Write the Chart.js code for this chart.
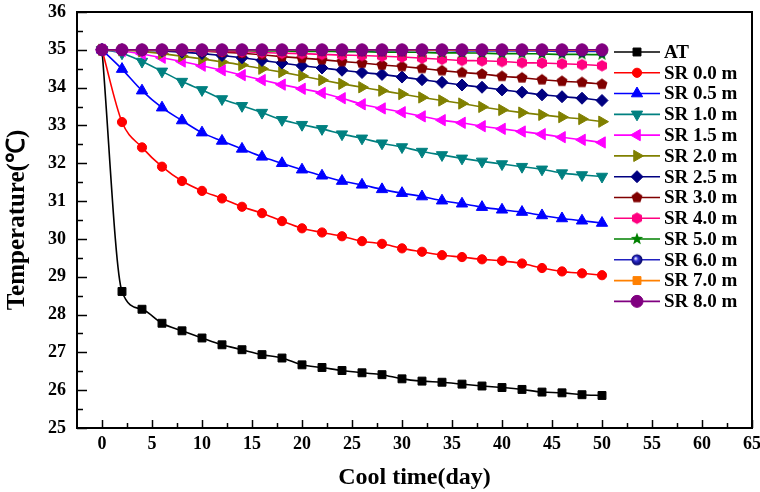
<!DOCTYPE html>
<html><head><meta charset="utf-8">
<script src="https://cdn.jsdelivr.net/npm/chart.js@4.4.1/dist/chart.umd.min.js"></script>
<style>html,body{margin:0;padding:0;background:#fff;}</style>
</head><body>
<canvas id="c" width="760" height="492"></canvas>
<script>
const DAYS = [0,2,4,6,8,10,12,14,16,18,20,22,24,26,28,30,32,34,36,38,40,42,44,46,48,50];
const AT   = [35,28.61,28.14,27.77,27.57,27.38,27.20,27.07,26.94,26.85,26.67,26.60,26.52,26.46,26.41,26.30,26.24,26.21,26.16,26.11,26.07,26.02,25.95,25.93,25.88,25.86];
const SR00 = [35,33.09,32.42,31.91,31.53,31.27,31.07,30.85,30.68,30.47,30.28,30.17,30.07,29.94,29.87,29.75,29.66,29.57,29.52,29.46,29.42,29.35,29.23,29.14,29.09,29.04];
const SR05 = [35,34.49,33.92,33.47,33.13,32.81,32.59,32.38,32.17,32.00,31.83,31.67,31.53,31.43,31.31,31.21,31.12,31.01,30.93,30.84,30.77,30.71,30.62,30.54,30.48,30.42];
const SR10 = [35,34.91,34.69,34.43,34.16,33.94,33.70,33.52,33.34,33.15,33.02,32.91,32.77,32.66,32.53,32.43,32.31,32.22,32.13,32.05,31.98,31.91,31.84,31.74,31.69,31.65];
const SR15 = [35,34.97,34.89,34.79,34.69,34.58,34.46,34.33,34.20,34.08,33.97,33.86,33.72,33.56,33.45,33.35,33.24,33.14,33.07,32.98,32.91,32.84,32.77,32.69,32.62,32.55];
const SR20 = [35,34.99,34.96,34.90,34.83,34.76,34.68,34.60,34.50,34.41,34.31,34.20,34.10,34.01,33.92,33.83,33.74,33.66,33.58,33.49,33.41,33.34,33.28,33.22,33.17,33.10];
const SR25 = [35,35,34.99,34.97,34.94,34.90,34.85,34.79,34.72,34.65,34.58,34.52,34.46,34.40,34.35,34.28,34.21,34.14,34.07,34.01,33.94,33.88,33.81,33.76,33.72,33.66];
const SR30 = [35,35,35,34.99,34.98,34.96,34.94,34.91,34.87,34.82,34.78,34.74,34.69,34.65,34.60,34.56,34.51,34.45,34.40,34.36,34.30,34.26,34.21,34.17,34.14,34.09];
const SR40 = [35,35,34.99,34.99,34.98,34.97,34.96,34.95,34.93,34.91,34.90,34.88,34.86,34.85,34.83,34.81,34.78,34.75,34.72,34.71,34.69,34.66,34.65,34.63,34.61,34.58];
const SR50 = [35,35,35,35,34.99,34.99,34.98,34.98,34.97,34.97,34.96,34.96,34.95,34.95,34.94,34.94,34.93,34.92,34.92,34.91,34.90,34.90,34.89,34.88,34.88,34.87];
const SR60 = [35,35,35,35,35,35,35,35,34.99,34.99,34.99,34.99,34.99,34.98,34.98,34.98,34.98,34.98,34.97,34.97,34.97,34.97,34.97,34.96,34.96,34.96];
const SR70 = [35,35,35,35,35,35,35,35,35,35,35,35,35,35,35,35,34.99,34.99,34.99,34.99,34.99,34.99,34.99,34.99,34.99,34.99];
const SR80 = [35,35,35,35,35,35,35,35,35,35,35,35,35,35,35,35,35,35,35,35,35,35,35,35,35,35];
const SERIES_LABELS = ['AT','SR 0.0 m','SR 0.5 m','SR 1.0 m','SR 1.5 m','SR 2.0 m','SR 2.5 m','SR 3.0 m','SR 4.0 m','SR 5.0 m','SR 6.0 m','SR 7.0 m','SR 8.0 m'];
const X_TICKS = [0,5,10,15,20,25,30,35,40,45,50,55,60,65];
const Y_TICKS = [25,26,27,28,29,30,31,32,33,34,35,36];
const X_TITLE = 'Cool time(day)';
const Y_TITLE = 'Temperature(\u2103)';

// marker glyphs
function polyMarker(n, r, fill, rotDeg, inner) {
  const s = 16, c = document.createElement('canvas'); c.width = s; c.height = s;
  const g = c.getContext('2d'); g.fillStyle = fill; g.beginPath();
  const pts = inner ? n * 2 : n;
  for (let i = 0; i < pts; i++) {
    const rr = inner ? (i % 2 ? inner : r) : r;
    const a = (rotDeg * Math.PI / 180) + i * 2 * Math.PI / pts - Math.PI / 2;
    const px = s / 2 + rr * Math.cos(a), py = s / 2 + rr * Math.sin(a);
    i ? g.lineTo(px, py) : g.moveTo(px, py);
  }
  g.closePath(); g.fill(); return c;
}
function ballMarker(r) {
  const s = 16, c = document.createElement('canvas'); c.width = s; c.height = s;
  const g = c.getContext('2d');
  const grd = g.createRadialGradient(s/2 - 1.5, s/2 - 1.5, 0.5, s/2, s/2, r);
  grd.addColorStop(0, '#e0e0ff'); grd.addColorStop(0.35, '#3030d0'); grd.addColorStop(1, '#000060');
  g.fillStyle = grd; g.beginPath(); g.arc(s/2, s/2, r, 0, Math.PI * 2); g.fill(); return c;
}
const PENTAGON = polyMarker(5, 5.8, '#800000', 0);
const HEXAGON = polyMarker(6, 5.8, '#ff0080', 0);
const STAR = polyMarker(5, 6.5, '#008000', 0, 2.7);
const BALL = ballMarker(5.5);

function mk(label, data, color, style, radius, rot, order) {
  return {
    label, data: DAYS.map((d, i) => ({x: d, y: data[i]})),
    borderColor: color, backgroundColor: color, pointBackgroundColor: color, pointBorderColor: color,
    pointStyle: style, pointRadius: radius, pointRotation: rot || 0, pointBorderWidth: 1,
    borderWidth: 1.6, tension: 0.4, cubicInterpolationMode: 'monotone', order
  };
}
const datasets = [
  mk(SERIES_LABELS[0], AT, '#000000', 'rect', 5.6, 0, 12),
  mk(SERIES_LABELS[1], SR00, '#ff0000', 'circle', 4.6, 0, 11),
  mk(SERIES_LABELS[2], SR05, '#0000ff', 'triangle', 6.5, 0, 10),
  mk(SERIES_LABELS[3], SR10, '#008080', 'triangle', 6.5, 180, 9),
  mk(SERIES_LABELS[4], SR15, '#ff00ff', 'triangle', 6.5, 270, 8),
  mk(SERIES_LABELS[5], SR20, '#808000', 'triangle', 6.5, 90, 7),
  mk(SERIES_LABELS[6], SR25, '#000080', 'rectRot', 6, 0, 6),
  mk(SERIES_LABELS[7], SR30, '#800000', PENTAGON, 5.5, 0, 5),
  mk(SERIES_LABELS[8], SR40, '#ff0080', HEXAGON, 5.5, 0, 4),
  mk(SERIES_LABELS[9], SR50, '#008000', STAR, 5.5, 0, 3),
  mk(SERIES_LABELS[10], SR60, '#2020c0', BALL, 5.5, 0, 2),
  mk(SERIES_LABELS[11], SR70, '#ff8000', 'rect', 5.6, 0, 1),
  mk(SERIES_LABELS[12], SR80, '#800080', 'circle', 6, 0, 0)
];

const FONT = 'Liberation Serif';
const frame = {
  id: 'frame',
  afterDatasetsDraw(chart) {
    const {ctx, chartArea: a, scales: {x, y}} = chart;
    ctx.save(); ctx.strokeStyle = '#000';
    ctx.lineWidth = 1.5;
    ctx.beginPath();
    X_TICKS.forEach((v, i) => {
      const px = Math.round(x.getPixelForValue(v)) + 0.5;
      ctx.moveTo(px, a.bottom); ctx.lineTo(px, a.bottom - 8);
      if (i < X_TICKS.length - 1) {
        const pm = Math.round(x.getPixelForValue((v + X_TICKS[i + 1]) / 2)) + 0.5;
        ctx.moveTo(pm, a.bottom); ctx.lineTo(pm, a.bottom - 5);
      }
    });
    Y_TICKS.forEach((v, i) => {
      const py = Math.round(y.getPixelForValue(v)) + 0.5;
      ctx.moveTo(a.left, py); ctx.lineTo(a.left + 10, py);
      if (i < Y_TICKS.length - 1) {
        const pm = Math.round(y.getPixelForValue((v + Y_TICKS[i + 1]) / 2)) + 0.5;
        ctx.moveTo(a.left, pm); ctx.lineTo(a.left + 6, pm);
      }
    });
    ctx.stroke();
    ctx.lineWidth = 2;
    ctx.strokeRect(a.left, a.top, a.right - a.left, a.bottom - a.top);
    ctx.restore();
  },
  afterDraw(chart) {
    const ctx = chart.ctx;
    ctx.save();
    chart.data.datasets.forEach((ds, i) => {
      const yy = 52 + i * 20.78;
      ctx.strokeStyle = ds.borderColor; ctx.lineWidth = 1.6;
      ctx.beginPath(); ctx.moveTo(614, yy); ctx.lineTo(660, yy); ctx.stroke();
      ctx.fillStyle = ds.pointBackgroundColor; ctx.strokeStyle = ds.pointBorderColor; ctx.lineWidth = 1;
      Chart.helpers.drawPoint(ctx, {pointStyle: ds.pointStyle, radius: ds.pointRadius, rotation: ds.pointRotation, borderWidth: 1}, 637, yy);
      ctx.fillStyle = '#000'; ctx.font = 'bold 19px "' + FONT + '"'; ctx.textBaseline = 'middle'; ctx.textAlign = 'left';
      ctx.fillText(ds.label, 664, yy + 1);
    });
    ctx.restore();
  }
};

new Chart(document.getElementById('c'), {
  type: 'line',
  data: {datasets},
  options: {
    responsive: false, animation: false,
    layout: {padding: {top: 12, right: 8, left: 0, bottom: 0}},
    plugins: {legend: {display: false}, tooltip: {enabled: false}},
    scales: {
      x: {
        type: 'linear', min: -2.5, max: 65,
        afterBuildTicks: s => { s.ticks = X_TICKS.map(v => ({value: v})); },
        afterFit: s => { s.height = 64; s.paddingLeft = 0; s.paddingRight = 0; },
        grid: {display: false, drawTicks: false}, border: {display: false},
        ticks: {color: '#000', font: {family: FONT, weight: 'bold', size: 18}, padding: 6, maxRotation: 0, autoSkip: false},
        title: {display: true, text: X_TITLE, color: '#000', font: {family: FONT, weight: 'bold', size: 24}, padding: {top: 0, bottom: 0}}
      },
      y: {
        type: 'linear', min: 25, max: 36,
        afterBuildTicks: s => { s.ticks = Y_TICKS.map(v => ({value: v})); },
        afterFit: s => { s.width = 77; s.paddingTop = 0; s.paddingBottom = 0; },
        grid: {display: false, drawTicks: false}, border: {display: false},
        ticks: {color: '#000', font: {family: FONT, weight: 'bold', size: 18}, padding: 11, autoSkip: false},
        title: {display: true, text: Y_TITLE, color: '#000', font: {family: FONT, weight: 'bold', size: 25}, padding: {top: 3, bottom: 0}}
      }
    }
  },
  plugins: [frame]
});
</script>
</body></html>
